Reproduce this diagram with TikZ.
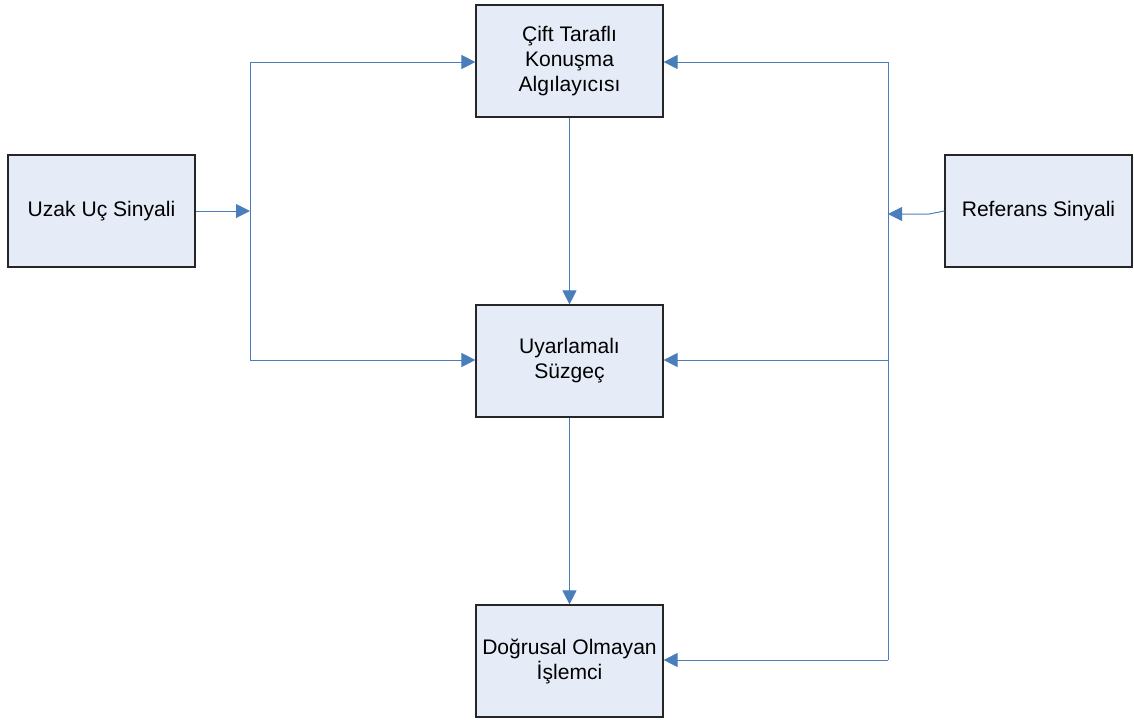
\documentclass[tikz,border=0pt]{standalone}
\usepackage{fontspec}
\setmainfont{Liberation Sans}
\usetikzlibrary{arrows.meta, positioning, calc}
\definecolor{kutu}{RGB}{230,236,247}
\definecolor{hat}{RGB}{74,126,187}

\begin{document}
\begin{tikzpicture}[x=0.75pt, y=-0.75pt,
    every node/.style={font=\fontsize{15.8}{18.8}\selectfont},
    blok/.style={draw=black!85, line width=0.9pt, fill=kutu, minimum width=140.25pt, minimum height=84pt, align=center, inner sep=0pt},
    ok/.style={draw=hat, line width=0.75pt, -{Triangle[length=10.5pt, width=10.5pt]}},
    hatt/.style={draw=hat, line width=0.75pt}]
    \useasboundingbox (0,0) rectangle (1134,719);
    % bloklar
    \node[blok] (cift) at (569.5,61) {Çift Taraflı\\Konuşma\\Algılayıcısı};
    \node[blok] (suzgec) at (569.5,361) {Uyarlamalı\\Süzgeç};
    \node[blok] (islemci) at (569.5,661) {Doğrusal Olmayan\\İşlemci};
    \node[blok] (uzak) at (101.5,211) {Uzak Uç Sinyali};
    \node[blok] (ref) at (1038.5,211) {Referans Sinyali};

    % sol hat
    \coordinate (solust) at (250,62);
    \coordinate (solalt) at (250,360);
    \coordinate (solorta) at (250,211);
    \draw[hatt] (solust) -- (solalt);
    \draw[ok] (uzak.east |- solorta) -- (solorta);
    \draw[ok] (solust) -- (cift.west |- solust);
    \draw[ok] (solalt) -- (suzgec.west |- solalt);

    % sag hat
    \coordinate (sagust) at (888,62);
    \coordinate (sagsuz) at (888,360);
    \coordinate (sagalt) at (888,660);
    \coordinate (sagorta) at (888,214);
    \coordinate (kirik) at (929,214);
    \draw[hatt] (sagust) -- (sagalt);
    \draw[ok] (ref.west) -- (kirik) -- (sagorta);
    \draw[ok] (sagust) -- (cift.east |- sagust);
    \draw[ok] (sagsuz) -- (suzgec.east |- sagsuz);
    \draw[ok] (sagalt) -- (islemci.east |- sagalt);

    % dikey
    \draw[ok] (cift.south) -- (suzgec.north);
    \draw[ok] (suzgec.south) -- (islemci.north);
\end{tikzpicture}
\end{document}
